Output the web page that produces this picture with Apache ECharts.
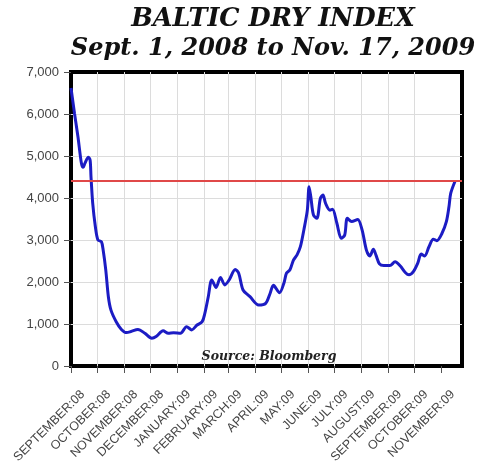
<!DOCTYPE html>
<html>
<head>
<meta charset="utf-8">
<script src="https://cdn.jsdelivr.net/npm/echarts@6/dist/echarts.min.js"></script>
<style>html,body{margin:0;padding:0;background:#fff}#c{width:477px;height:466px}</style>
</head>
<body>
<div id="c"></div>
<script>
// ---- data ----
var titleLine1 = 'BALTIC DRY INDEX';
var titleLine2 = 'Sept. 1, 2008 to Nov. 17, 2009';
var sourceText = 'Source: Bloomberg';
var axisStart = '2008-09-01';
var axisEnd = '2009-11-25';
var monthNames = ['JANUARY','FEBRUARY','MARCH','APRIL','MAY','JUNE','JULY','AUGUST','SEPTEMBER','OCTOBER','NOVEMBER','DECEMBER'];
var yTicks = [0, 1000, 2000, 3000, 4000, 5000, 6000, 7000];
var referenceLevel = 4400;
var dates = [
 '2008-09-01','2008-09-05','2008-09-09','2008-09-13','2008-09-15','2008-09-17','2008-09-21','2008-09-23','2008-09-24','2008-09-26','2008-09-29',
 '2008-10-02','2008-10-06','2008-10-08','2008-10-11','2008-10-14','2008-10-17','2008-10-23','2008-10-29',
 '2008-11-04','2008-11-09','2008-11-17','2008-11-25',
 '2008-12-03','2008-12-08','2008-12-16','2008-12-22','2008-12-28',
 '2009-01-05','2009-01-12','2009-01-18','2009-01-24','2009-01-30',
 '2009-02-02','2009-02-06','2009-02-10','2009-02-15','2009-02-20','2009-02-25',
 '2009-03-02','2009-03-09','2009-03-13','2009-03-18','2009-03-26',
 '2009-04-05','2009-04-13','2009-04-18','2009-04-22','2009-04-29',
 '2009-05-04','2009-05-07','2009-05-11','2009-05-15','2009-05-19','2009-05-23','2009-05-27','2009-05-31',
 '2009-06-02','2009-06-04','2009-06-07','2009-06-11','2009-06-15','2009-06-18','2009-06-21','2009-06-26','2009-06-29',
 '2009-07-04','2009-07-09','2009-07-13','2009-07-16','2009-07-21','2009-07-28',
 '2009-08-02','2009-08-07','2009-08-11','2009-08-15','2009-08-18','2009-08-22','2009-08-27',
 '2009-09-03','2009-09-09','2009-09-15','2009-09-21','2009-09-25','2009-09-30',
 '2009-10-05','2009-10-09','2009-10-13','2009-10-18','2009-10-23','2009-10-27',
 '2009-11-02','2009-11-07','2009-11-10','2009-11-12','2009-11-17'
];
var values = [
 6620,6020,5460,4825,4730,4825,4970,4900,4510,3870,3320,
 3000,2960,2760,2290,1650,1330,1055,870,
 795,820,870,780,
 660,700,840,780,790,
 780,935,860,975,1055,
 1250,1650,2050,1870,2110,1930,
 2050,2300,2210,1810,1650,
 1450,1490,1720,1920,1745,
 1970,2210,2290,2520,2640,2840,3240,3710,
 4270,4030,3600,3515,3990,4070,3870,3710,3730,
 3400,3040,3120,3515,3440,3490,
 3240,2760,2620,2780,2640,2430,2390,
 2390,2480,2380,2220,2170,2245,
 2445,2665,2620,2840,3015,2985,
 3160,3435,3790,4110,4400
];

// ---- build axis categories (one per day) ----
function pad(n){return (n<10?'0':'')+n;}
function fmt(d){return d.getUTCFullYear()+'-'+pad(d.getUTCMonth()+1)+'-'+pad(d.getUTCDate());}
var cats = [];
(function(){
  var p = axisStart.split('-'), q = axisEnd.split('-');
  var t = Date.UTC(+p[0], +p[1]-1, +p[2]);
  var e = Date.UTC(+q[0], +q[1]-1, +q[2]);
  for (; t <= e; t += 86400000) cats.push(fmt(new Date(t)));
})();
function isMonthStart(i, v){ return v.slice(8) === '01'; }
function monthLabel(v){
  var m = +v.slice(5,7) - 1;
  return monthNames[m] + ':' + v.slice(2,4);
}
function thousands(v){ return String(v).replace(/\B(?=(\d{3})+(?!\d))/g, ','); }

var chart = echarts.init(document.getElementById('c'), null, {renderer:'canvas'});
chart.setOption({
  animation: false,
  backgroundColor: '#fff',
  title: [
    {text: titleLine1, left: 268, top: 1, textAlign: 'center',
     textStyle: {fontFamily: 'DejaVu Serif', fontStyle: 'italic', fontWeight: 'bold', fontSize: 25.5, color: '#111'}},
    {text: titleLine2, left: 268, top: 32, textAlign: 'center',
     textStyle: {fontFamily: 'DejaVu Serif', fontStyle: 'italic', fontWeight: 'bold', fontSize: 24, color: '#111'}},
    {text: sourceText, left: 264, top: 345, textAlign: 'center',
     textStyle: {fontFamily: 'DejaVu Serif', fontStyle: 'italic', fontWeight: 'bold', fontSize: 12.5, color: '#222'}}
  ],
  grid: {left: 71, right: 15, top: 72, bottom: 100, show: true, borderColor: '#000', borderWidth: 4,
         backgroundColor: 'transparent', containLabel: false, outerBoundsMode: 'none'},
  xAxis: {
    type: 'category', data: cats, boundaryGap: false,
    axisLine: {show: false},
    axisTick: {show: true, interval: isMonthStart, length: 7, lineStyle: {color: '#555'}},
    splitLine: {show: true, showMinLine: false, showMaxLine: false, interval: isMonthStart, lineStyle: {color: '#dcdcdc', width: 1}},
    axisLabel: {interval: isMonthStart, formatter: monthLabel, rotate: 45, margin: 12,
      verticalAlign: 'top', padding: [12,2,0,0],
      fontFamily: 'Liberation Sans', fontSize: 12.5, color: '#444'}
  },
  yAxis: {
    type: 'value', min: yTicks[0], max: yTicks[yTicks.length-1], interval: yTicks[1]-yTicks[0],
    axisLine: {show: false},
    axisTick: {show: true, length: 7, lineStyle: {color: '#555'}},
    splitLine: {show: true, showMinLine: false, showMaxLine: false, lineStyle: {color: '#dcdcdc', width: 1}},
    axisLabel: {formatter: thousands, margin: 12, fontFamily: 'Liberation Sans', fontSize: 13, color: '#444'}
  },
  series: [{
    type: 'line',
    data: dates.map(function(d, i){ return [d, values[i]]; }),
    showSymbol: false, smooth: 0.3,
    lineStyle: {color: '#1c1cc4', width: 3},
    markLine: {silent: true, symbol: ['none','none'], label: {show: false},
      lineStyle: {color: '#e04848', width: 1.8, type: 'solid'},
      data: [{yAxis: referenceLevel}]}
  }]
});
</script>
</body>
</html>
